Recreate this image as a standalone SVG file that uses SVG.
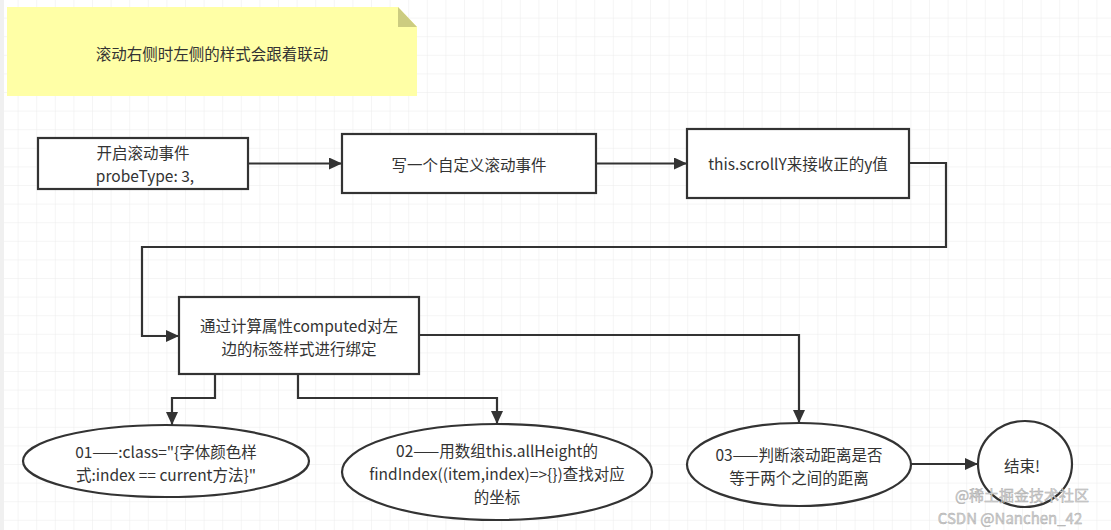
<svg xmlns="http://www.w3.org/2000/svg" width="1111" height="530" viewBox="0 0 1111 530">
<defs>
<pattern id="grid" width="18.6" height="18.6" patternUnits="userSpaceOnUse">
<path d="M18.6 0V18.6M0 18.6H18.6" fill="none" stroke="#ebebeb" stroke-width="1"/>
</pattern>
<marker id="arr" markerUnits="userSpaceOnUse" markerWidth="14" markerHeight="12" refX="13" refY="6" orient="auto">
<path d="M0,0 L13,6 L0,12 Z" fill="#333"/>
</marker>
</defs>
<style>
.node{fill:#fff;stroke:#333;stroke-width:2.2}
.conn{fill:none;stroke:#333;stroke-width:2.2;marker-end:url(#arr)}
text{font-family:"Noto Sans CJK SC","Liberation Sans",sans-serif;font-size:15.5px;fill:#333;text-anchor:middle;dominant-baseline:central}
.wm{font-size:15px;fill:#d0d0d0;stroke:#aaa;stroke-width:0.4}
</style>
<rect width="1111" height="530" fill="#fff"/>
<rect width="1111" height="530" fill="url(#grid)"/>
<rect x="0" y="0" width="4" height="530" fill="#f0f0f0"/>

<g id="note">
<path d="M7,7 H398 L417,27 V96 H7 Z" fill="#ffffa6"/>
<path d="M398,7 L417,27 H398 Z" fill="#cccc80"/>
<text x="212" y="53">滚动右侧时左侧的样式会跟着联动</text>
</g>

<g id="connectors">
<path class="conn" d="M248,163.5 H342"/>
<path class="conn" d="M596,163.5 H687"/>
<path class="conn" d="M909,163 H946 V247 H142 V336 H179"/>
<path class="conn" d="M215,374 V398 H172 V425"/>
<path class="conn" d="M298,374 V398 H497 V424"/>
<path class="conn" d="M419,335 H799 V423"/>
<path class="conn" d="M911,464 H978"/>
</g>

<g id="n1">
<rect class="node" x="38" y="138" width="210" height="51"/>
<text x="143" y="152">开启滚动事件</text>
<text x="145" y="175">probeType: 3,</text>
</g>
<g id="n2">
<rect class="node" x="342" y="134" width="254" height="59"/>
<text x="469" y="164">写一个自定义滚动事件</text>
</g>
<g id="n3">
<rect class="node" x="687" y="129" width="222" height="69"/>
<text x="798" y="163">this.scrollY来接收正的y值</text>
</g>
<g id="n4">
<rect class="node" x="179" y="297" width="240" height="77"/>
<text x="299" y="325">通过计算属性computed对左</text>
<text x="299" y="348">边的标签样式进行绑定</text>
</g>
<g id="e1">
<ellipse class="node" cx="166" cy="461" rx="143" ry="36"/>
<text x="166" y="451">01——:class="{字体颜色样</text>
<text x="166" y="474">式:index == current方法}"</text>
</g>
<g id="e2">
<ellipse class="node" cx="497" cy="472" rx="155" ry="48"/>
<text x="497" y="450">02——用数组this.allHeight的</text>
<text x="497" y="473">findIndex((item,index)=&gt;{})查找对应</text>
<text x="497" y="496">的坐标</text>
</g>
<g id="e3">
<ellipse class="node" cx="799" cy="464.5" rx="112" ry="41.5"/>
<text x="799" y="454">03——判断滚动距离是否</text>
<text x="799" y="477">等于两个之间的距离</text>
</g>
<g id="end">
<ellipse class="node" cx="1025" cy="464" rx="47" ry="43"/>
<text x="1022" y="465">结束!</text>
</g>

<text class="wm" x="1022" y="494">@稀土掘金技术社区</text>
<text class="wm" x="1010" y="517">CSDN @Nanchen_42</text>
</svg>
